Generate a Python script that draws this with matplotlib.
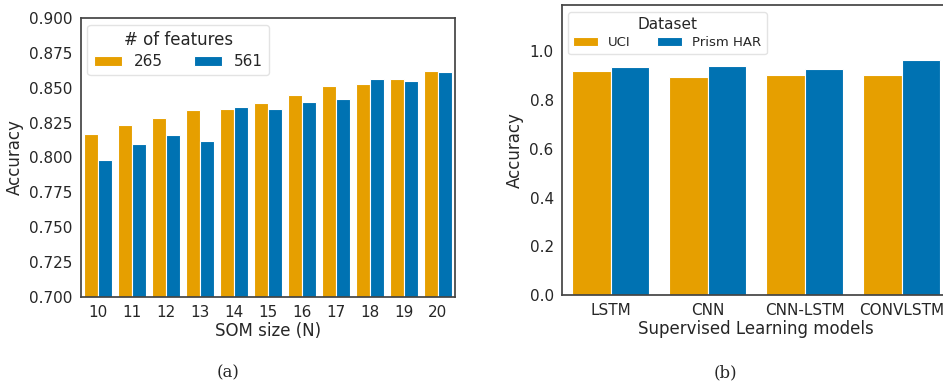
import matplotlib.pyplot as plt
import numpy as np

# Panel (a): SOM size vs accuracy
som_sizes = ["10", "11", "12", "13", "14", "15", "16", "17", "18", "19", "20"]
acc_265 = [0.817, 0.823, 0.828, 0.834, 0.835, 0.839, 0.845, 0.851, 0.853, 0.856, 0.862]
acc_561 = [0.798, 0.810, 0.816, 0.812, 0.836, 0.835, 0.840, 0.842, 0.856, 0.855, 0.861]
feature_labels = ["265", "561"]

# Panel (b): supervised models
models = ["LSTM", "CNN", "CNN-LSTM", "CONVLSTM"]
acc_uci = [0.918, 0.893, 0.901, 0.903]
acc_prism = [0.934, 0.940, 0.926, 0.964]
dataset_labels = ["UCI", "Prism HAR"]

ORANGE = "#E69F00"
BLUE = "#0072B2"
TEXT = "#262626"

plt.rcParams.update({
    "font.family": "DejaVu Sans",
    "text.color": TEXT,
    "axes.labelcolor": TEXT,
    "xtick.color": TEXT,
    "ytick.color": TEXT,
    "axes.edgecolor": "#444444",
    "axes.linewidth": 1.25,
    "xtick.major.size": 0,
    "ytick.major.size": 0,
})

fig = plt.figure(figsize=(9.43, 3.91), dpi=100)
ax_a = fig.add_axes([0.0859, 0.2404, 0.3966, 0.7136])
ax_b = fig.add_axes([0.596, 0.2455, 0.4115, 0.7415])


def grouped_bars(ax, cats, s1, s2, labels):
    x = np.arange(len(cats))
    w = 0.4
    ax.bar(x - w / 2, s1, w, color=ORANGE, edgecolor="white", linewidth=0.8, label=labels[0])
    ax.bar(x + w / 2, s2, w, color=BLUE, edgecolor="white", linewidth=0.8, label=labels[1])
    ax.set_xticks(x)
    ax.set_xticklabels(cats)
    ax.set_xlim(-0.5, len(cats) - 0.5)


grouped_bars(ax_a, som_sizes, acc_265, acc_561, feature_labels)
ax_a.set_ylim(0.7, 0.9)
ax_a.set_yticks(np.arange(0.7, 0.9001, 0.025))
ax_a.set_yticklabels([f"{v:.3f}" for v in np.arange(0.7, 0.9001, 0.025)])
ax_a.tick_params(labelsize=11, pad=6)
ax_a.set_xlabel("SOM size (N)", fontsize=12, labelpad=1)
ax_a.set_ylabel("Accuracy", fontsize=12, labelpad=4)
leg_a = ax_a.legend(title="# of features", ncol=2, fontsize=11, title_fontsize=12,
                    loc="upper left", bbox_to_anchor=(0.005, 0.99), borderaxespad=0.3,
                    handlelength=1.85, columnspacing=2.0, handleheight=0.6,
                    labelspacing=0.3)

grouped_bars(ax_b, models, acc_uci, acc_prism, dataset_labels)
ax_b.set_ylim(0, 1.19)
ax_b.set_yticks([0.0, 0.2, 0.4, 0.6, 0.8, 1.0])
ax_b.set_yticklabels(["0.0", "0.2", "0.4", "0.6", "0.8", "1.0"])
ax_b.tick_params(labelsize=11, pad=6)
ax_b.set_xlabel("Supervised Learning models", fontsize=12, labelpad=1)
ax_b.set_ylabel("Accuracy", fontsize=12, labelpad=4)
leg_b = ax_b.legend(title="Dataset", ncol=2, fontsize=9.5, title_fontsize=11,
                    loc="upper left", bbox_to_anchor=(0.005, 0.99), borderaxespad=0.3,
                    handlelength=1.85, columnspacing=2.0, handleheight=0.6,
                    labelspacing=0.3)

for leg in (leg_a, leg_b):
    leg.get_frame().set_edgecolor("#dddddd")

fig.text(0.242, 0.035, "(a)", family="DejaVu Serif", fontsize=12, ha="center")
fig.text(0.769, 0.035, "(b)", family="DejaVu Serif", fontsize=12, ha="center")

fig.savefig("out.png", dpi=100)
